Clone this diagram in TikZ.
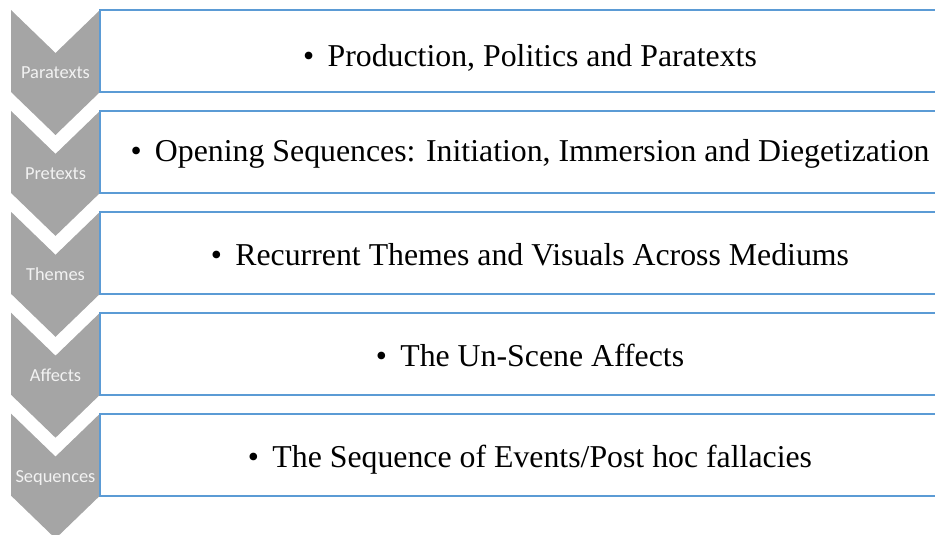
\documentclass[tikz,border=0pt]{standalone}
\usepackage{fontspec}
\setmainfont{Liberation Serif}
\newfontfamily\chevfont{Carlito}
\usepackage{xcolor}
\definecolor{chevgray}{HTML}{A5A5A5}
\definecolor{boxblue}{HTML}{5B9BD5}
\definecolor{chevtext}{HTML}{F2F2F2}
\tikzset{
  chevron/.style   = {fill=chevgray},
  itembox/.style   = {draw=boxblue,line width=2pt,fill=white},
  chevlabel/.style = {font=\chevfont\fontsize{18.4}{20}\selectfont,text=chevtext,anchor=base,inner sep=0pt},
  itemtext/.style  = {font=\fontsize{31.8}{36}\selectfont,anchor=base,inner sep=0pt}
}
% one row of the list: #1 top edge, #2 name, #3 chevron label, #4 item, #5 baseline drop
\newcommand{\listrow}[5]{%
  \fill[chevron] (11,#1) -- (55.5,#1+43) -- (100,#1) -- (100,#1+82)
    -- (55.5,#1+125) -- (11,#1+82) -- cycle;
  \node[chevlabel] (lab#2) at (55.5,#1+69) {#3};
  \draw[itembox] (100,#1) rectangle (962,#1+82);
  \node[itemtext] (item#2) at (530,#1+#5) {\textbullet\hspace{0.42em}#4};
}

\begin{document}
\begin{tikzpicture}[x=1pt,y=-1pt]
  \useasboundingbox (0,0) rectangle (935,535);
  \clip (0,0) rectangle (935,535);
  \listrow{10}{para}{Paratexts}{Production, Politics and Paratexts}{56.5}
  \listrow{110.9}{pre}{Pretexts}{Opening Sequences: Initiation, Immersion and Diegetization}{51}
  \listrow{211.8}{them}{Themes}{Recurrent Themes and Visuals Across Mediums}{54}
  \listrow{312.7}{aff}{Affects}{The Un-Scene Affects}{54}
  \listrow{413.6}{seq}{Sequences}{The Sequence of Events/Post hoc fallacies}{54}
\end{tikzpicture}
\end{document}
